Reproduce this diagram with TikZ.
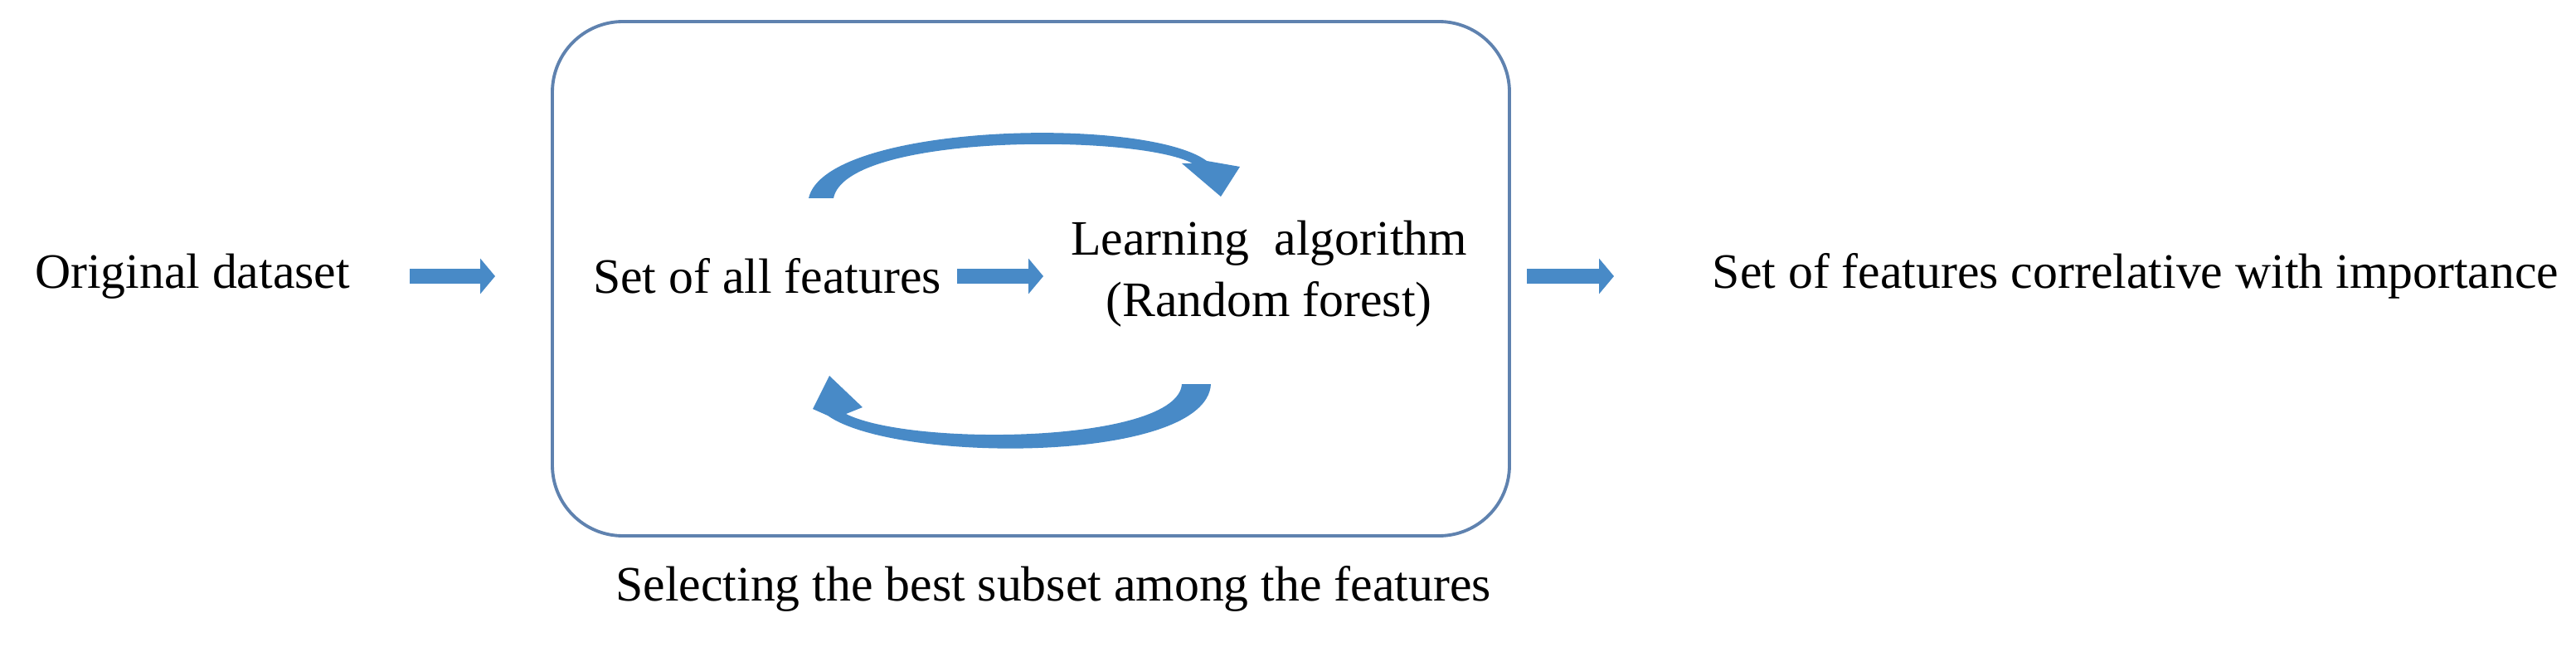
\documentclass[tikz,border=0pt]{standalone}
\usepackage{fontspec}
\setmainfont{Liberation Serif}
\usetikzlibrary{arrows.meta}
\definecolor{arrowblue}{RGB}{72,138,199}
\definecolor{boxblue}{RGB}{95,130,175}
\tikzset{
  txt/.style={font=\fontsize{17}{21}\selectfont, inner sep=0pt},
  blockarrow/.style={arrowblue, line width=0.18cm, -{Triangle[length=0.18cm,width=0.42cm]}},
}
\begin{document}
\begin{tikzpicture}
    \useasboundingbox (0,0) rectangle (31.06,7.79);
    \draw[boxblue, line width=1.1pt, rounded corners=0.85cm] (6.66,1.33) rectangle (18.20,7.53);
    \node[txt] (orig) at (2.32,4.46) {Original dataset};
    \node[txt] (all) at (9.25,4.46) {Set of all features};
    \node[txt, align=center] (learn) at (15.30,4.49) {Learning\ \ algorithm\\(Random forest)};
    \node[txt] (result) at (25.75,4.46) {Set of features correlative with importance};
    \node[txt] (caption) at (12.70,0.69) {Selecting the best subset among the features};
    \coordinate (a1s) at (4.94,4.46);
    \coordinate (a1e) at (5.97,4.46);
    \coordinate (a2s) at (11.54,4.46);
    \coordinate (a2e) at (12.58,4.46);
    \coordinate (a3s) at (18.41,4.46);
    \coordinate (a3e) at (19.46,4.46);
    \draw[blockarrow] (a1s) -- (a1e);
    \draw[blockarrow] (a2s) -- (a2e);
    \draw[blockarrow] (a3s) -- (a3e);
    % curved loop arrows
    \fill[arrowblue] (9.75,5.40) .. controls (9.95,6.30) and (13.80,6.40) .. (14.55,5.85)
        -- (14.95,5.78) -- (14.72,5.42) -- (14.25,5.82) -- (14.38,5.82)
        .. controls (13.70,6.18) and (10.20,6.18) .. (10.05,5.40) -- cycle;
    \fill[arrowblue] (14.60,3.16) .. controls (14.55,2.20) and (10.80,2.20) .. (9.98,2.78)
        -- (9.80,2.86) -- (10.00,3.26) -- (10.40,2.88) -- (10.20,2.80)
        .. controls (11.00,2.40) and (14.20,2.45) .. (14.25,3.16) -- cycle;
\end{tikzpicture}
\end{document}
